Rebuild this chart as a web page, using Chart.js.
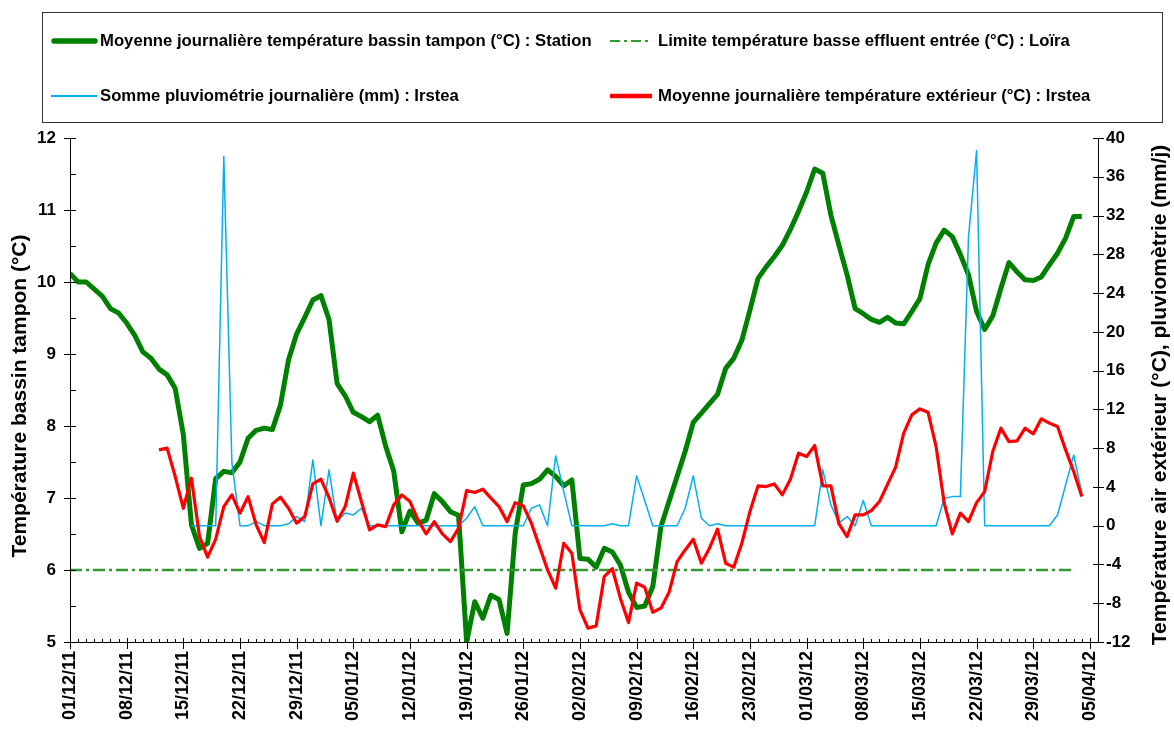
<!DOCTYPE html>
<html>
<head>
<meta charset="utf-8">
<script src="https://cdn.jsdelivr.net/npm/chart.js@4.4.1/dist/chart.umd.min.js"></script>
<style>
  html, body { margin: 0; padding: 0; background: #fff; }
  #wrap { position: relative; width: 1174px; height: 729px; }
  #c { position: absolute; left: 0; top: 0; }
  #legend { position: absolute; left: 42px; top: 12px; width: 1119px; height: 109px;
            border: 1px solid #333; box-sizing: content-box;
            font-family: "Liberation Sans", Arial, sans-serif; font-weight: bold; font-size: 16.7px; color: #000; }
  .item { position: absolute; height: 20px; line-height: 20px; white-space: nowrap; }
  .item svg { position: absolute; left: 0; top: 0; }
  .item span { position: absolute; top: 0; }
</style>
</head>
<body>
<div id="wrap">
  <canvas id="c" width="1174" height="729"></canvas>
  <div id="legend"></div>
</div>
<script>
// ---------- DATA ----------
// x axis: days counted from 01/12/11 (day 0); weekly tick labels
const tickLabels = ['01/12/11','08/12/11','15/12/11','22/12/11','29/12/11','05/01/12','12/01/12','19/01/12',
  '26/01/12','02/02/12','09/02/12','16/02/12','23/02/12','01/03/12','08/03/12','15/03/12','22/03/12','29/03/12','05/04/12'];
const axisLastDay = 127;

// Moyenne journalière température bassin tampon (°C) : Station — from day 0
const bassinStart = 0;
const bassin = [10.12,10.0,10.0,9.90,9.80,9.63,9.57,9.43,9.26,9.03,8.94,8.79,8.71,8.52,7.88,6.63,6.30,6.37,7.27,7.37,
  7.35,7.50,7.83,7.94,7.97,7.95,8.29,8.92,9.28,9.51,9.75,9.81,9.48,8.59,8.42,8.19,8.13,8.06,8.15,7.72,
  7.37,6.53,6.82,6.65,6.69,7.06,6.95,6.81,6.76,5.0,5.56,5.33,5.65,5.59,5.12,6.51,7.18,7.20,7.26,7.39,
  7.30,7.17,7.25,6.16,6.15,6.04,6.30,6.25,6.07,5.69,5.48,5.50,5.77,6.60,6.95,7.30,7.65,8.05,8.18,8.31,
  8.44,8.80,8.94,9.19,9.61,10.05,10.21,10.35,10.51,10.73,10.98,11.25,11.57,11.51,10.93,10.51,10.10,9.63,9.56,9.48,
  9.44,9.51,9.43,9.42,9.59,9.77,10.24,10.54,10.72,10.63,10.38,10.10,9.59,9.34,9.53,9.91,10.27,10.14,10.03,10.02,
  10.07,10.24,10.40,10.61,10.91,10.91];

// Limite température basse effluent entrée (°C) : Loïra
const limite = 6;
const limiteDays = [0, 124];

// Somme pluviométrie journalière (mm) : Irstea — from day 15
const pluieStart = 15;
const pluie = [0,0,0,0,38.1,6.5,0,0,0.42,0,0,0,0.2,0.94,0.42,6.79,0,5.76,0.4,1.3,
  1.11,1.8,0,0,0,0,0,0,0,0,0,0,0,0,0.77,1.97,0,0,0,0,
  0,0,1.8,2.15,0,7.2,3.52,0,0,0,0,0,0.2,0,0,5.14,2.6,0,0,0,
  0,1.8,5.14,0.77,0,0.2,0,0,0,0,0,0,0,0,0,0,0,0,5.76,2.15,
  0.3,0.94,0,2.6,0,0,0,0,0,0,0,0,0,2.84,3.0,3.0,29.8,38.7,0,0,
  0,0,0,0,0,0,0,1.11,4.2,7.3,3.35];

// Moyenne journalière température extérieur (°C) : Irstea — from day 11
const extStart = 11;
const exterieur = [7.82,8.0,5.07,1.80,4.90,-1.12,-3.25,-1.39,1.97,3.18,1.29,3.0,0.08,-1.74,2.25,2.94,1.80,0.26,0.94,4.31,
  4.80,2.90,0.45,1.97,5.42,2.49,-0.43,0.08,-0.09,2.15,3.18,2.49,0.6,-0.85,0.42,-0.85,-1.64,-0.26,3.62,3.42,
  3.77,2.84,1.97,0.42,2.38,2.04,0.26,-2.16,-4.56,-6.45,-1.81,-2.84,-8.69,-10.58,-10.34,-5.25,-4.44,-7.5,-10.0,-5.93,
  -6.35,-8.93,-8.51,-6.9,-3.7,-2.5,-1.39,-3.87,-2.32,-0.36,-3.87,-4.28,-1.81,1.46,4.11,4.04,4.31,3.18,4.80,7.48,
  7.13,8.27,4.11,4.11,0.19,-1.12,1.11,1.11,1.55,2.49,4.26,6.05,9.55,11.43,12.05,11.71,8.16,2.32,-0.85,1.29,
  0.42,2.38,3.52,7.65,10.06,8.68,8.75,10.06,9.47,11.02,10.58,10.23,7.82,5.58,3.0];

const seriesNames = [
  'Moyenne journalière température bassin tampon (°C) : Station',
  'Limite température basse effluent entrée (°C) : Loïra',
  'Somme pluviométrie journalière (mm) : Irstea',
  'Moyenne journalière température extérieur (°C) : Irstea'
];
const leftTitle = 'Température bassin tampon (°C)';
const rightTitle = 'Température air extérieur (°C), pluviomètrie (mm/j)';

// ---------- STYLE ----------
const GREEN = '#008000', DASHGREEN = '#339933', BLUE = '#00B0F0', RED = '#FF0000';
const FONT = '"Liberation Sans", Arial, sans-serif';

const toXY = (arr, start) => arr.map((v, i) => ({ x: start + i, y: v }));

// ---------- LEGEND (HTML) ----------
(function buildLegend() {
  const lg = document.getElementById('legend');
  const items = [
    { name: seriesNames[0], x: 8, y: 18, svg: '<line x1="3" y1="10" x2="44" y2="10" stroke="' + GREEN + '" stroke-width="5.5" stroke-linecap="round"/>', tx: 49 },
    { name: seriesNames[1], x: 567, y: 18, svg: '<line x1="0" y1="10" x2="42" y2="10" stroke="' + DASHGREEN + '" stroke-width="2" stroke-dasharray="10,4,3,4"/>', tx: 48 },
    { name: seriesNames[2], x: 8, y: 73, svg: '<line x1="0" y1="10" x2="46" y2="10" stroke="' + BLUE + '" stroke-width="2"/>', tx: 49 },
    { name: seriesNames[3], x: 567, y: 73, svg: '<line x1="0" y1="10" x2="42" y2="10" stroke="' + RED + '" stroke-width="4.5"/>', tx: 48 }
  ];
  items.forEach(it => {
    const d = document.createElement('div');
    d.className = 'item';
    d.style.left = it.x + 'px';
    d.style.top = it.y + 'px';
    d.innerHTML = '<svg width="60" height="20">' + it.svg + '</svg><span style="left:' + it.tx + 'px">' + it.name + '</span>';
    lg.appendChild(d);
  });
})();

// ---------- AXIS DECORATION PLUGIN ----------
const axisPlugin = {
  id: 'axisDeco',
  afterDraw(chart) {
    const ctx = chart.ctx;
    const a = chart.chartArea;
    const xs = chart.scales.x, yl = chart.scales.y, yr = chart.scales.y2;
    ctx.save();
    ctx.strokeStyle = '#000';
    ctx.lineWidth = 1;
    ctx.beginPath();
    ctx.moveTo(a.left + 0.5, a.top); ctx.lineTo(a.left + 0.5, a.bottom + 0.5);
    ctx.moveTo(a.right + 0.5, a.top); ctx.lineTo(a.right + 0.5, a.bottom + 0.5);
    ctx.moveTo(a.left, a.bottom + 0.5); ctx.lineTo(a.right + 0.5, a.bottom + 0.5);
    for (let v = yl.min; v <= yl.max + 1e-9; v += 0.5) {
      const y = Math.round(yl.getPixelForValue(v)) + 0.5;
      const major = Math.abs(v - Math.round(v)) < 1e-6;
      ctx.moveTo(a.left - (major ? 6 : 0), y); ctx.lineTo(a.left + 6, y);
    }
    for (let v = yr.min; v <= yr.max + 1e-9; v += 4) {
      const y = Math.round(yr.getPixelForValue(v)) + 0.5;
      ctx.moveTo(a.right - 5, y); ctx.lineTo(a.right + 6, y);
    }
    for (let d = 0; d <= axisLastDay; d++) {
      const x = Math.round(xs.getPixelForValue(d)) + 0.5;
      if (d % 7 === 0 && d / 7 < tickLabels.length) {
        ctx.moveTo(x, a.bottom - 4); ctx.lineTo(x, a.bottom + 7);
      } else {
        ctx.moveTo(x, a.bottom - 3); ctx.lineTo(x, a.bottom);
      }
    }
    ctx.stroke();
    ctx.fillStyle = '#000';
    ctx.font = 'bold 21px ' + FONT;
    ctx.textAlign = 'center';
    ctx.textBaseline = 'middle';
    const cy = (a.top + a.bottom) / 2;
    ctx.save();
    ctx.translate(20, cy + 6);
    ctx.rotate(-Math.PI / 2);
    ctx.fillText(leftTitle, 0, 0);
    ctx.restore();
    ctx.save();
    ctx.translate(1160, cy + 5);
    ctx.rotate(-Math.PI / 2);
    ctx.fillText(rightTitle, 0, 0);
    ctx.restore();
    ctx.restore();
  }
};

// ---------- CHART ----------
const tickFont = { family: FONT, weight: 'bold', size: 17 };
new Chart(document.getElementById('c'), {
  type: 'line',
  data: {
    datasets: [
      { label: seriesNames[3], data: toXY(exterieur, extStart), yAxisID: 'y2', borderColor: RED, borderWidth: 3.2, order: 1 },
      { label: seriesNames[2], data: toXY(pluie, pluieStart), yAxisID: 'y2', borderColor: BLUE, borderWidth: 1.5, order: 2 },
      { label: seriesNames[1], data: limiteDays.map(d => ({ x: d, y: limite })), yAxisID: 'y', borderColor: DASHGREEN, borderWidth: 2.5, borderDash: [12, 4, 3, 4], order: 3 },
      { label: seriesNames[0], data: toXY(bassin, bassinStart), yAxisID: 'y', borderColor: GREEN, borderWidth: 5, order: 4 }
    ]
  },
  options: {
    responsive: false,
    animation: false,
    devicePixelRatio: 1,
    layout: { padding: { top: 138, left: 0, right: 0, bottom: 0 } },
    elements: {
      point: { radius: 0, hoverRadius: 0 },
      line: { tension: 0, fill: false, borderJoinStyle: 'round', borderCapStyle: 'butt' }
    },
    plugins: { legend: { display: false }, tooltip: { enabled: false } },
    scales: {
      x: {
        type: 'linear', position: 'bottom', min: 0, max: axisLastDay,
        afterFit: s => { s.height = 87; },
        afterBuildTicks: s => { s.ticks = tickLabels.map((_, i) => ({ value: i * 7 })); },
        grid: { display: false, drawTicks: false },
        border: { display: false },
        ticks: {
          autoSkip: false, minRotation: 90, maxRotation: 90, padding: 9,
          color: '#000', font: { family: FONT, weight: 'bold', size: 18 },
          callback: v => tickLabels[Math.round(v / 7)]
        }
      },
      y: {
        position: 'left', min: 5, max: 12,
        afterFit: s => { s.width = 70; },
        grid: { display: false, drawTicks: false },
        border: { display: false },
        ticks: { stepSize: 1, padding: 14, color: '#000', font: tickFont }
      },
      y2: {
        position: 'right', min: -12, max: 40,
        afterFit: s => { s.width = 76; },
        grid: { display: false, drawTicks: false },
        border: { display: false },
        ticks: { stepSize: 4, padding: 8, color: '#000', font: tickFont }
      }
    }
  },
  plugins: [axisPlugin]
});
</script>
</body>
</html>
